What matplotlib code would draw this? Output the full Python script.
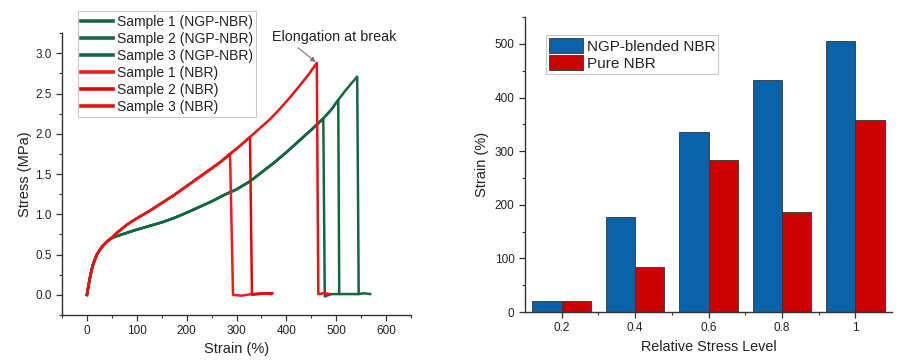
import matplotlib

matplotlib.use("Agg")
import matplotlib.pyplot as plt  # noqa: E402
import numpy as np  # noqa: E402
from matplotlib.ticker import FormatStrFormatter, MultipleLocator  # noqa: E402

plt.rcParams["font.family"] = ["Liberation Sans", "DejaVu Sans"]

INK = "#222222"
GREEN = "#13683f"
REDS = ["#f21b1b", "#d40d0d", "#e61414"]

# ---- stress-strain curves ----
# shared loading path of the pure NBR samples
NBR_STRAIN = [0, 3, 6, 9, 12, 16, 20, 25, 32, 40, 48, 60, 80, 100, 125, 150, 175, 200,
              225, 250, 270, 287, 307, 327, 347, 367, 387, 407, 427, 445, 461]
NBR_STRESS = [0, 0.11, 0.21, 0.30, 0.37, 0.44, 0.50, 0.55, 0.61, 0.66, 0.70, 0.77, 0.87,
              0.95, 1.04, 1.14, 1.24, 1.35, 1.46, 1.57, 1.66, 1.75, 1.85, 1.96, 2.07,
              2.18, 2.31, 2.45, 2.60, 2.74, 2.88]
# shared loading path of the NGP-blended samples
NGP_STRAIN = [0, 3, 6, 9, 12, 16, 20, 25, 32, 40, 48, 60, 80, 100, 125, 150, 175, 200,
              225, 250, 275, 300, 327, 350, 375, 400, 425, 450, 474, 490, 504, 520, 542]
NGP_STRESS = [0, 0.11, 0.21, 0.30, 0.37, 0.44, 0.50, 0.55, 0.61, 0.66, 0.70, 0.73, 0.77,
              0.81, 0.855, 0.90, 0.955, 1.02, 1.09, 1.16, 1.24, 1.31, 1.41, 1.52, 1.64,
              1.77, 1.91, 2.05, 2.19, 2.30, 2.42, 2.55, 2.71]

# break point and tail after rupture per sample
NBR_BREAK = [287, 327, 461]
NBR_TAIL_STRAIN = [[293, 310, 330, 350, 370], [331, 345, 360, 372], [464, 475, 487]]
NBR_TAIL_STRESS = [[0.0, -0.01, 0.01, 0.02, 0.01], [0.0, 0.01, 0.02, 0.02], [0.01, 0.02, 0.01]]
NGP_BREAK = [474, 504, 542]
NGP_TAIL_STRAIN = [[477, 490, 505], [506, 525, 544], [545, 556, 568]]
NGP_TAIL_STRESS = [[-0.02, 0.01, 0.01], [0.01, 0.01, 0.01], [0.01, 0.02, 0.01]]

# ---- bar chart ----
LEVELS = ["0.2", "0.4", "0.6", "0.8", "1"]
NGP_BAR = [20, 178, 335, 433, 506]
NBR_BAR = [20, 84, 284, 186, 359]


def sample_curve(strain, stress, brk, tail_x, tail_y):
    n = strain.index(brk) + 1
    return strain[:n] + tail_x, stress[:n] + tail_y


def style_axis(ax):
    for side in ("top", "right"):
        ax.spines[side].set_visible(False)
    for side in ("left", "bottom"):
        ax.spines[side].set_color("#333333")
        ax.spines[side].set_linewidth(1.0)
    ax.tick_params(which="major", direction="out", length=4, width=0.9,
                   colors="#333333", labelcolor=INK, labelsize=8.5)
    ax.tick_params(which="minor", direction="out", length=2.5, width=0.8, colors="#333333")


fig = plt.figure(figsize=(9.09, 3.6), dpi=100)

# left: stress-strain
ax1 = fig.add_axes([0.0682, 0.125, 0.384, 0.783])
for i in range(3):
    x, y = sample_curve(NGP_STRAIN, NGP_STRESS, NGP_BREAK[i], NGP_TAIL_STRAIN[i], NGP_TAIL_STRESS[i])
    ax1.plot(x, y, color=GREEN, lw=1.8, label=f"Sample {i + 1} (NGP-NBR)", zorder=2,
             solid_joinstyle="round")
for i in range(3):
    x, y = sample_curve(NBR_STRAIN, NBR_STRESS, NBR_BREAK[i], NBR_TAIL_STRAIN[i], NBR_TAIL_STRESS[i])
    ax1.plot(x, y, color=REDS[i], lw=1.8, label=f"Sample {i + 1} (NBR)", zorder=3,
             solid_joinstyle="round")

ax1.set_xlim(-50, 650)
ax1.set_ylim(-0.25, 3.25)
ax1.xaxis.set_major_locator(MultipleLocator(100))
ax1.xaxis.set_minor_locator(MultipleLocator(50))
ax1.yaxis.set_major_locator(MultipleLocator(0.5))
ax1.yaxis.set_minor_locator(MultipleLocator(0.25))
ax1.yaxis.set_major_formatter(FormatStrFormatter("%.1f"))
style_axis(ax1)
ax1.set_xlabel("Strain (%)", fontsize=10.5, color=INK, labelpad=3)
ax1.set_ylabel("Stress (MPa)", fontsize=10.5, color=INK, labelpad=2)

ax1.annotate("Elongation at break", xy=(NBR_BREAK[2], NBR_STRESS[-1]),
             xytext=(372, 3.2), textcoords="data", fontsize=10.4, color=INK,
             ha="left", va="center",
             arrowprops=dict(arrowstyle="-|>", color="#777777", lw=0.8, relpos=(0.17, 0),
                             shrinkA=1, shrinkB=1, mutation_scale=7))

leg1 = ax1.legend(loc="upper left", bbox_to_anchor=(0.0858, 0.969),
                  bbox_transform=fig.transFigure, borderaxespad=0,
                  fontsize=10, frameon=True, fancybox=False,
                  handlelength=2.3, handletextpad=0.25, labelspacing=0.22,
                  borderpad=0.25)
leg1.get_frame().set_edgecolor("#bbbbbb")
leg1.get_frame().set_linewidth(0.8)
for t in leg1.get_texts():
    t.set_color(INK)
for h in leg1.get_lines():
    h.set_linewidth(2.6)

# right: bar chart
ax2 = fig.add_axes([0.5776, 0.1333, 0.4037, 0.819])
pos = np.arange(len(LEVELS))
w = 0.4
ax2.bar(pos - w / 2, NGP_BAR, w, color="#0a63a9", edgecolor="#333333", lw=0.6,
        label="NGP-blended NBR")
ax2.bar(pos + w / 2, NBR_BAR, w, color="#cc0000", edgecolor="#333333", lw=0.6,
        label="Pure NBR")
ax2.set_xlim(-0.5, 4.5)
ax2.set_ylim(0, 550)
ax2.set_xticks(pos)
ax2.set_xticklabels(LEVELS)
ax2.set_xticks(pos[:-1] + 0.5, minor=True)
ax2.yaxis.set_major_locator(MultipleLocator(100))
ax2.yaxis.set_minor_locator(MultipleLocator(50))
style_axis(ax2)
ax2.set_xlabel("Relative Stress Level", fontsize=10.4, color=INK, labelpad=4)
ax2.set_ylabel("Strain (%)", fontsize=10.5, color=INK, labelpad=4)

leg2 = ax2.legend(loc="upper left", bbox_to_anchor=(0.6007, 0.9028),
                  bbox_transform=fig.transFigure, borderaxespad=0,
                  fontsize=11, frameon=True, fancybox=False,
                  handlelength=2.2, handleheight=1.1, handletextpad=0.25,
                  labelspacing=0.1, borderpad=0.2)
leg2.get_frame().set_edgecolor("#bbbbbb")
leg2.get_frame().set_linewidth(0.8)
for t in leg2.get_texts():
    t.set_color(INK)

fig.savefig("out.png", facecolor="white")
